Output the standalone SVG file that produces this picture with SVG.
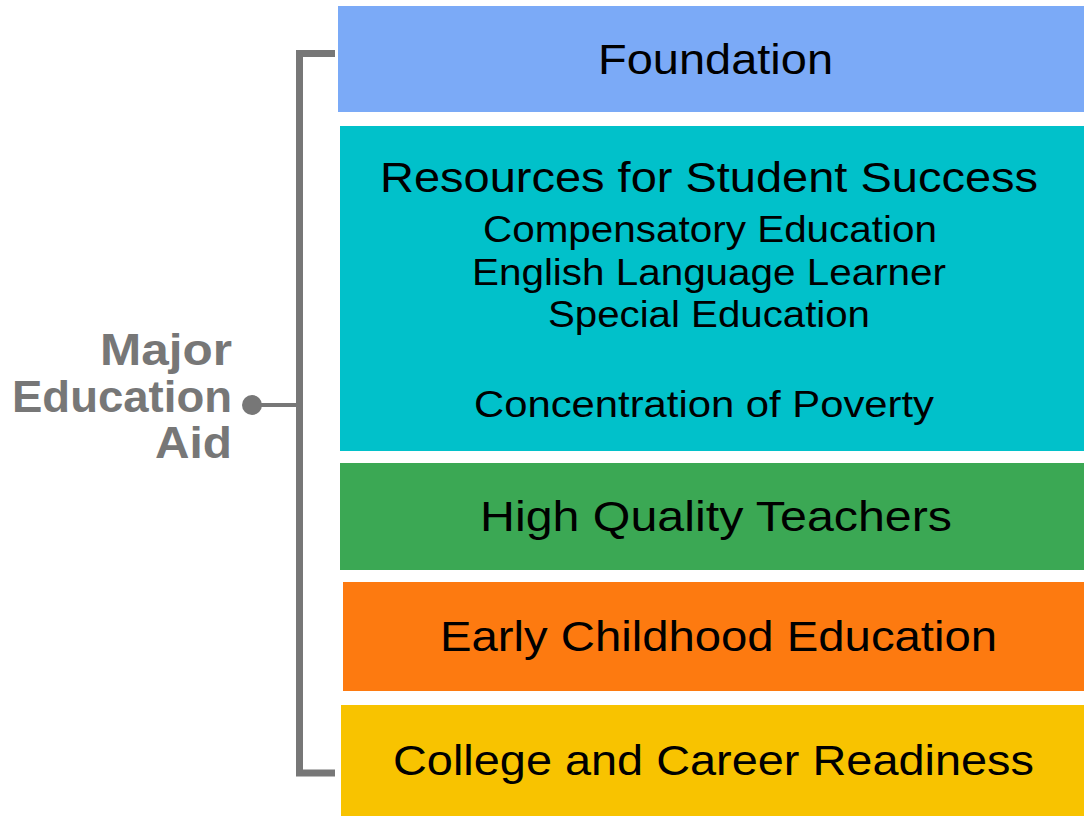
<svg xmlns="http://www.w3.org/2000/svg" width="1084" height="816" viewBox="0 0 1084 816">
<style>
.t{font-family:"Liberation Sans",Arial,sans-serif;fill:#000;text-anchor:middle;font-size:43px}
.s{font-family:"Liberation Sans",Arial,sans-serif;fill:#000;text-anchor:middle;font-size:36px}
.l{font-family:"Liberation Sans",Arial,sans-serif;fill:#777;text-anchor:end;font-size:44px;font-weight:bold}
.br{fill:none;stroke:#777;stroke-width:7}
</style>
<rect width="1084" height="816" fill="#fff"/>
<g id="label">
<text class="l" x="232" y="365" textLength="132" lengthAdjust="spacingAndGlyphs">Major</text>
<text class="l" x="232" y="412" textLength="220" lengthAdjust="spacingAndGlyphs">Education</text>
<text class="l" x="232" y="458" textLength="77" lengthAdjust="spacingAndGlyphs">Aid</text>
</g>
<g id="connectors">
<path class="br" d="M335,53.5 H299.5 V773 H335"/>
<line x1="252" y1="405" x2="299" y2="405" stroke="#777" stroke-width="4"/>
<circle cx="252" cy="405" r="10" fill="#777"/>
</g>
<g id="foundation">
<rect x="338" y="6" width="746" height="106" fill="#7BAAF7"/>
<text class="t" x="715.5" y="74" textLength="235" lengthAdjust="spacingAndGlyphs">Foundation</text>
</g>
<g id="resources">
<rect x="340" y="126" width="744" height="325" fill="#01C1CA"/>
<text class="t" x="709" y="192" textLength="658" lengthAdjust="spacingAndGlyphs">Resources for Student Success</text>
<text class="s" x="710" y="242" textLength="454" lengthAdjust="spacingAndGlyphs">Compensatory Education</text>
<text class="s" x="709" y="285" textLength="474" lengthAdjust="spacingAndGlyphs">English Language Learner</text>
<text class="s" x="709" y="327" textLength="322" lengthAdjust="spacingAndGlyphs">Special Education</text>
<text class="s" x="704" y="417" textLength="460" lengthAdjust="spacingAndGlyphs">Concentration of Poverty</text>
</g>
<g id="teachers">
<rect x="340" y="463" width="744" height="107" fill="#3BA854"/>
<text class="t" x="716" y="531" textLength="472" lengthAdjust="spacingAndGlyphs">High Quality Teachers</text>
</g>
<g id="early">
<rect x="343" y="582" width="741" height="109" fill="#FD7A10"/>
<text class="t" x="718.5" y="651" textLength="557" lengthAdjust="spacingAndGlyphs">Early Childhood Education</text>
</g>
<g id="college">
<rect x="341" y="705" width="743" height="111" fill="#F8C300"/>
<text class="t" x="713.5" y="775" textLength="641" lengthAdjust="spacingAndGlyphs">College and Career Readiness</text>
</g>
</svg>
